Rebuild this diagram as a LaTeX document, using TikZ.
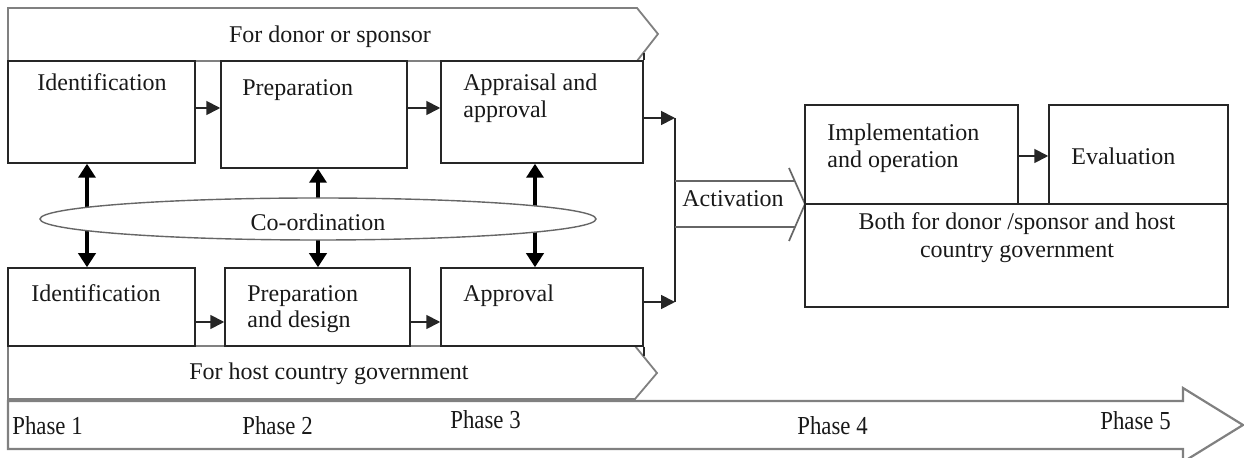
\documentclass[tikz,border=0pt]{standalone}
\usepackage{fontspec}
\setmainfont{Liberation Serif}
\usepackage{graphicx}
\usetikzlibrary{arrows.meta,fit,calc,shapes.geometric}

\tikzset{
  box/.style={draw=black!85, line width=0.75pt, inner sep=0pt},
  banner/.style={draw=black!50, line width=0.9pt, fill=white, line join=miter},
  lbl/.style={font=\fontsize{12}{14}\selectfont, text=black!90, inner sep=0pt},
  phaselbl/.style={lbl, anchor=base west},
  arr/.style={line width=0.9pt, draw=black!85, -{Triangle[length=7pt,width=7pt]}},
  twoway/.style={line width=1.9pt, {Triangle[length=7pt,width=8.5pt]}-{Triangle[length=7pt,width=8.5pt]}},
}

\begin{document}
\begin{tikzpicture}[x=0.5pt,y=-0.5pt]
\useasboundingbox (0,0) rectangle (1244,458);

% ---- phase timeline arrow along the bottom
\draw[banner, line width=1.1pt] (8,401) -- (1183,401) -- (1183,388) -- (1243,425)
   -- (1183,462) -- (1183,449) -- (8,449) -- cycle;
\node[phaselbl] (ph1) at (12,435) {\scalebox{0.95}[1.08]{Phase 1}};
\node[phaselbl] (ph2) at (242,435) {\scalebox{0.95}[1.08]{Phase 2}};
\node[phaselbl] (ph3) at (450,429) {\scalebox{0.95}[1.08]{Phase 3}};
\node[phaselbl] (ph4) at (797,435) {\scalebox{0.95}[1.08]{Phase 4}};
\node[phaselbl] (ph5) at (1100,430) {\scalebox{0.95}[1.08]{Phase 5}};

% ---- donor / sponsor banner
\draw[banner] (8,8) -- (637,8) -- (658,34) -- (637,61) -- (8,61) -- cycle;
\node[lbl, anchor=base] (donor) at (330,43) {For donor or sponsor};

% ---- host country government banner
\draw[banner] (8,346) -- (635,346) -- (657,373) -- (635,399) -- (8,399) -- cycle;
\node[lbl, anchor=base] (host) at (329,380) {For host country government};

% ---- donor track boxes
\node[box, fit={(8,61)(195,163)}] (t1) {};
\node[box, fit={(221,61)(407,168)}] (t2) {};
\node[box, fit={(441,61)(643,163)}] (t3) {};
\draw[black!85, line width=0.75pt] (t3.north east) -- ++(0,-7);
\node[lbl, anchor=base west] (t1a) at (37,91) {Identification};
\node[lbl, anchor=base west] (t2a) at (242,96) {Preparation};
\node[lbl, anchor=base west] (t3a) at (463,91) {Appraisal and};
\node[lbl, anchor=base west] (t3b) at (463,118) {approval};

% ---- host government track boxes
\node[box, fit={(8,268)(195,346)}] (b1) {};
\node[box, fit={(225,268)(410,346)}] (b2) {};
\node[box, fit={(441,268)(643,346)}] (b3) {};
\draw[black!85, line width=0.75pt] (b3.south east) -- ++(0,9);
\node[lbl, anchor=base west] (b1a) at (31,302) {Identification};
\node[lbl, anchor=base west] (b2a) at (247,302) {Preparation};
\node[lbl, anchor=base west] (b2b) at (247,328) {and design};
\node[lbl, anchor=base west] (b3a) at (463,302) {Approval};

% ---- flow within each track
\draw[arr] (t1.east |- 0,108) -- (t2.west |- 0,108);
\draw[arr] (t2.east |- 0,108) -- (t3.west |- 0,108);
\draw[arr] (b1.east |- 0,322) -- (b2.west |- 0,322);
\draw[arr] (b2.east |- 0,322) -- (b3.west |- 0,322);

% ---- co-ordination links between the tracks
\draw[twoway] (t1.south -| 87,0) -- (b1.north -| 87,0);
\draw[twoway] (t2.south -| 318,0) -- (b2.north -| 318,0);
\draw[twoway] (t3.south -| 535,0) -- (b3.north -| 535,0);
\node[draw=black!60, line width=0.7pt, fill=white, ellipse, minimum width=278pt,
      minimum height=21pt, inner sep=0pt] (coord) at (318,219) {};
\node[lbl, anchor=base] (coordt) at (318,231) {Co-ordination};

% ---- merge into activation
\coordinate (j1) at (675,118);
\coordinate (j2) at (675,302);
\draw[arr] (t3.east |- j1) -- (j1);
\draw[arr] (b3.east |- j2) -- (j2);
\draw[black!85, line width=0.75pt] (j1) -- (j2);

\draw[banner, line width=0.85pt, draw=black!60] (675,181) -- (795,181)
  (789,168) -- (805,204) -- (789,241)
  (675,227) -- (795,227);
\node[lbl, anchor=base west] (act) at (682,207) {Activation};

% ---- joint phase block
\node[box, fit={(805,204)(1228,307)}] (joint) {};
\node[box, fit={(805,105)(1018,204)}] (impl) {};
\node[box, fit={(1049,105)(1228,204)}] (eval) {};
\node[lbl, anchor=base west] (impla) at (827,141) {Implementation};
\node[lbl, anchor=base west] (implb) at (827,168) {and operation};
\node[lbl, anchor=base west] (evala) at (1071,165) {Evaluation};
\draw[arr] (impl.east |- 0,156) -- (eval.west |- 0,156);
\node[lbl, anchor=base] (botha) at (1017,230) {Both for donor /sponsor and host};
\node[lbl, anchor=base] (bothb) at (1017,258) {country government};
\end{tikzpicture}
\end{document}
